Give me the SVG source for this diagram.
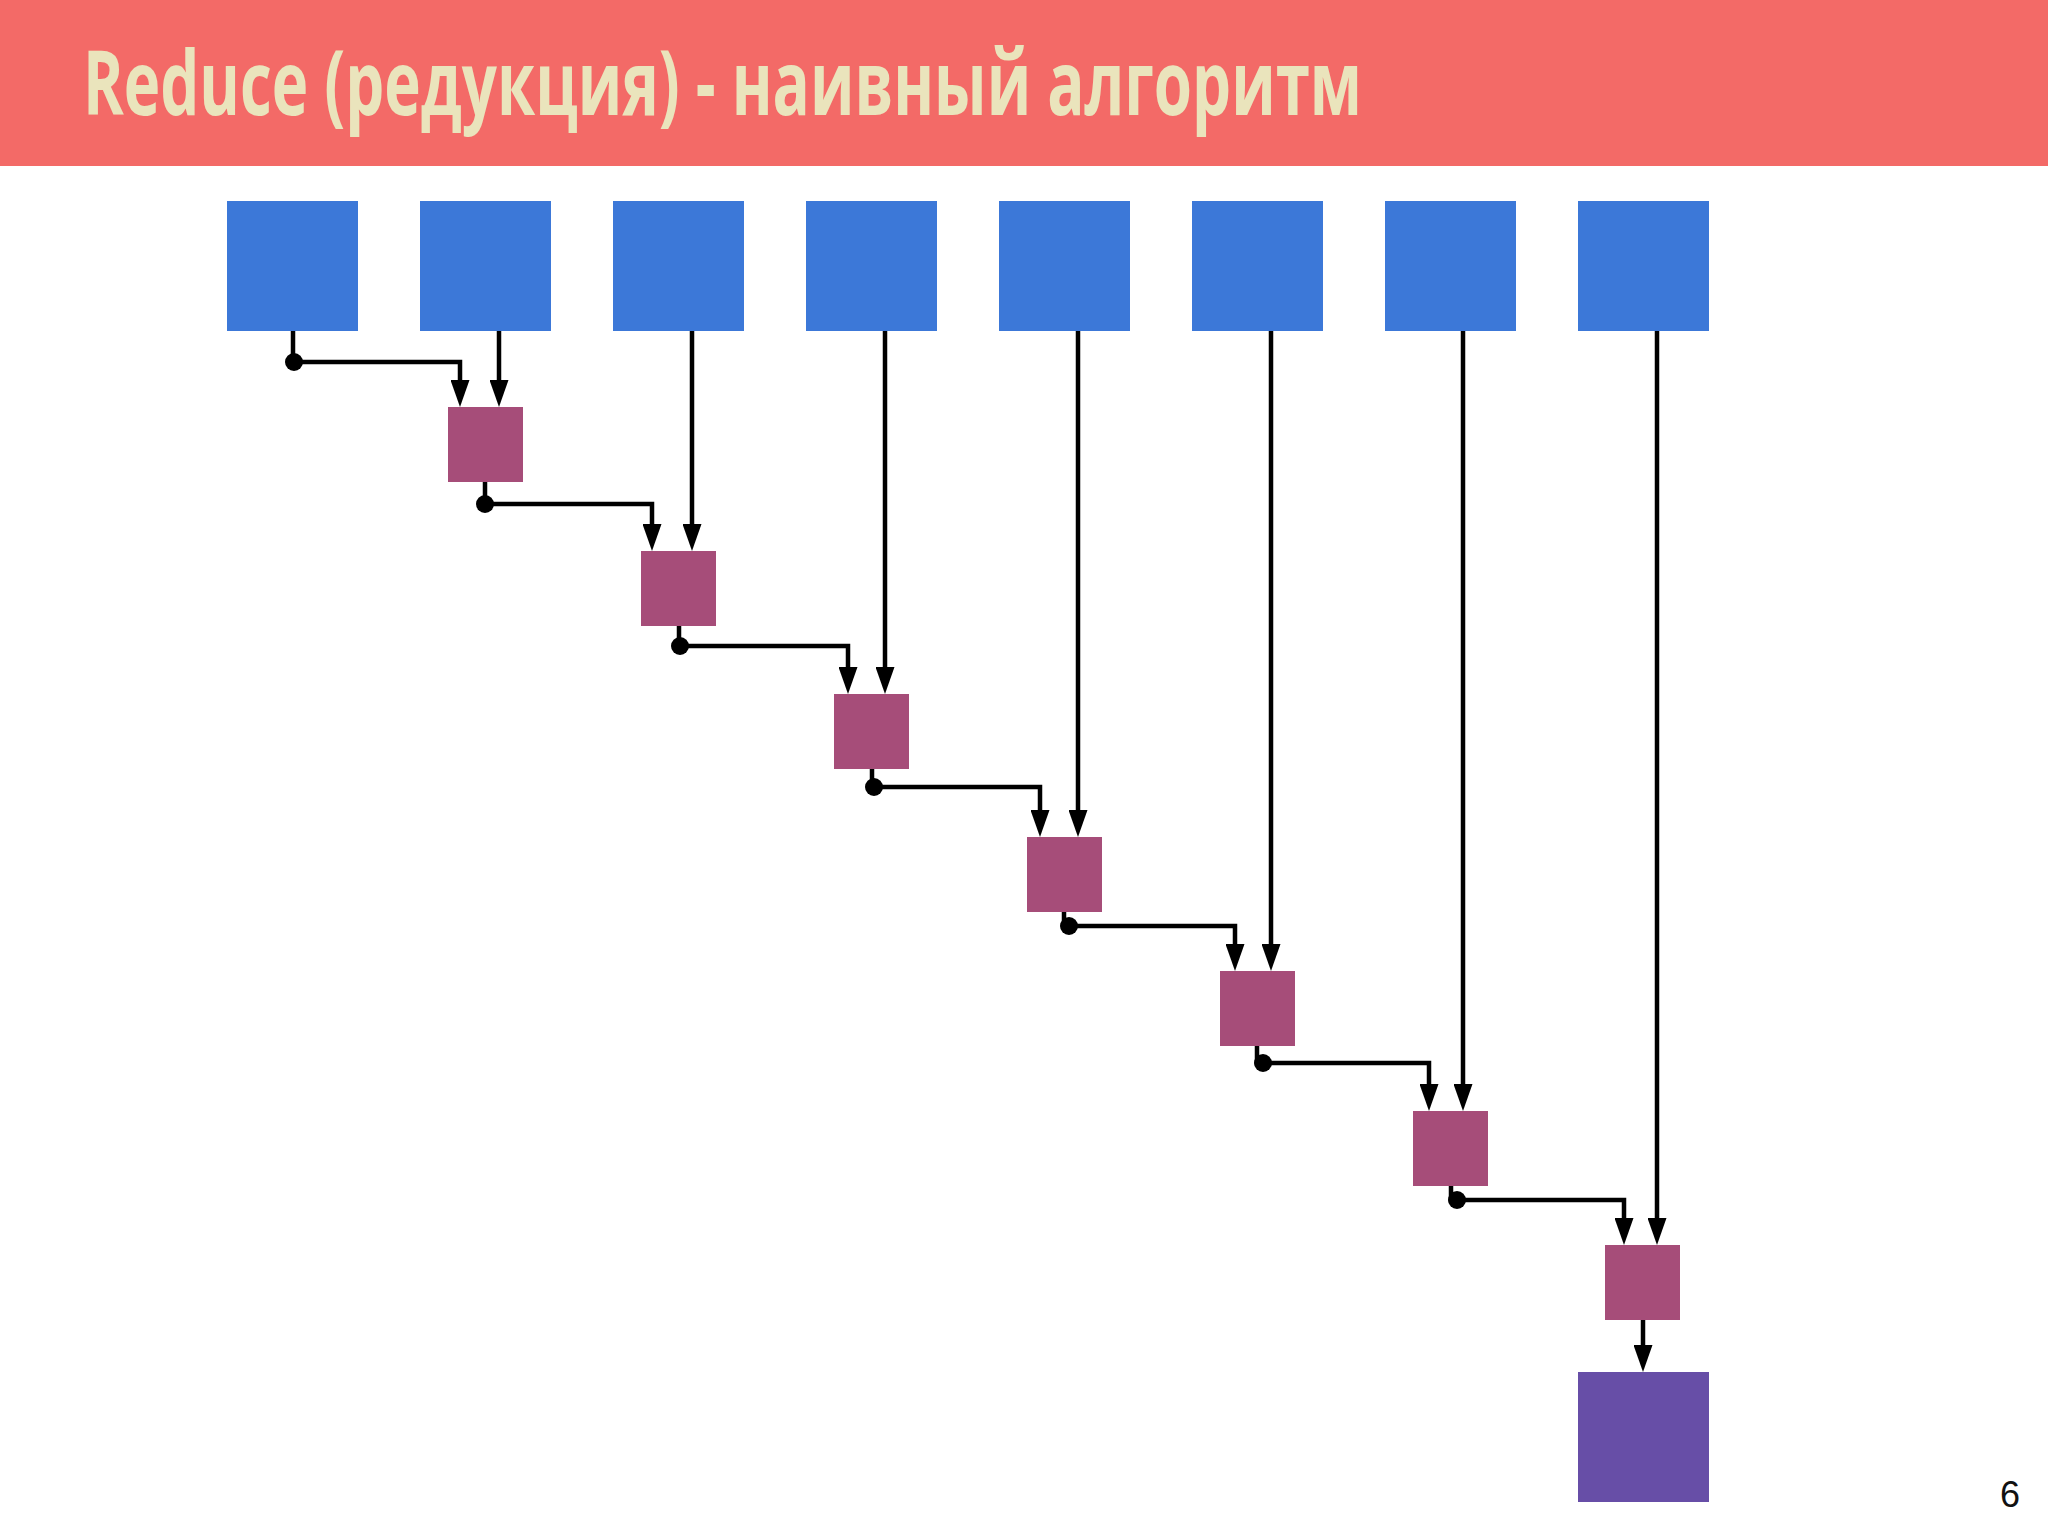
<svg xmlns="http://www.w3.org/2000/svg" width="2048" height="1536" viewBox="0 0 2048 1536">
<style>
.inp{fill:#3C78D8}
.op{fill:#A64D79}
.out{fill:#674EA7}
.wire{fill:none;stroke:#000;stroke-width:4.5;stroke-linejoin:miter}
.arr{marker-end:url(#arrow)}
.dot{fill:#000}
.title{font-family:"Open Sans","Liberation Sans",sans-serif;font-weight:700;font-size:90px;fill:#EAE4BC}
.page{font-family:"Liberation Sans",Arial,sans-serif;font-size:36px;fill:#111}
</style>
<defs>
<marker id="arrow" viewBox="0 0 27 19" refX="7" refY="9.5" markerWidth="27" markerHeight="19" markerUnits="userSpaceOnUse" orient="auto">
<path d="M0,0 L27,9.5 L0,19 z" fill="#000"/>
</marker>
</defs>
<rect width="2048" height="1536" fill="#fff"/>
<g id="header">
<rect x="0" y="0" width="2048" height="166" fill="#F36A67"/>
<text class="title" x="83" y="115" textLength="1279" lengthAdjust="spacingAndGlyphs">Reduce (редукция) - наивный алгоритм</text>
</g>
<g id="inputs">
<rect id="in1" class="inp" x="227" y="201" width="131" height="130"/>
<rect id="in2" class="inp" x="420" y="201" width="131" height="130"/>
<rect id="in3" class="inp" x="613" y="201" width="131" height="130"/>
<rect id="in4" class="inp" x="806" y="201" width="131" height="130"/>
<rect id="in5" class="inp" x="999" y="201" width="131" height="130"/>
<rect id="in6" class="inp" x="1192" y="201" width="131" height="130"/>
<rect id="in7" class="inp" x="1385" y="201" width="131" height="130"/>
<rect id="in8" class="inp" x="1578" y="201" width="131" height="130"/>
</g>
<g id="ops">
<rect id="op1" class="op" x="448" y="407" width="75" height="75"/>
<rect id="op2" class="op" x="641" y="551" width="75" height="75"/>
<rect id="op3" class="op" x="834" y="694" width="75" height="75"/>
<rect id="op4" class="op" x="1027" y="837" width="75" height="75"/>
<rect id="op5" class="op" x="1220" y="971" width="75" height="75"/>
<rect id="op6" class="op" x="1413" y="1111" width="75" height="75"/>
<rect id="op7" class="op" x="1605" y="1245" width="75" height="75"/>
</g>
<g id="result">
<rect id="out" class="out" x="1578" y="1372" width="131" height="130"/>
</g>
<g id="connectors">
<path class="wire arr" d="M293,331 V362 H460 V387"/>
<path class="wire arr" d="M485,482 V504 H652 V531"/>
<path class="wire arr" d="M679,626 V646 H848 V674"/>
<path class="wire arr" d="M872,769 V787 H1040 V817"/>
<path class="wire arr" d="M1064,912 V926 H1235 V951"/>
<path class="wire arr" d="M1257,1046 V1063 H1429 V1091"/>
<path class="wire arr" d="M1451,1186 V1200 H1624 V1225"/>
<path class="wire arr" d="M499,331 V387"/>
<path class="wire arr" d="M692,331 V531"/>
<path class="wire arr" d="M885,331 V674"/>
<path class="wire arr" d="M1078,331 V817"/>
<path class="wire arr" d="M1271,331 V951"/>
<path class="wire arr" d="M1463,331 V1091"/>
<path class="wire arr" d="M1657,331 V1225"/>
<path class="wire arr" d="M1643,1320 V1352"/>
<circle class="dot" cx="294" cy="362" r="9"/>
<circle class="dot" cx="485" cy="504" r="9"/>
<circle class="dot" cx="680" cy="646" r="9"/>
<circle class="dot" cx="874" cy="787" r="9"/>
<circle class="dot" cx="1069" cy="926" r="9"/>
<circle class="dot" cx="1263" cy="1063" r="9"/>
<circle class="dot" cx="1457" cy="1200" r="9"/>
</g>
<text class="page" x="2000" y="1507">6</text>
</svg>
